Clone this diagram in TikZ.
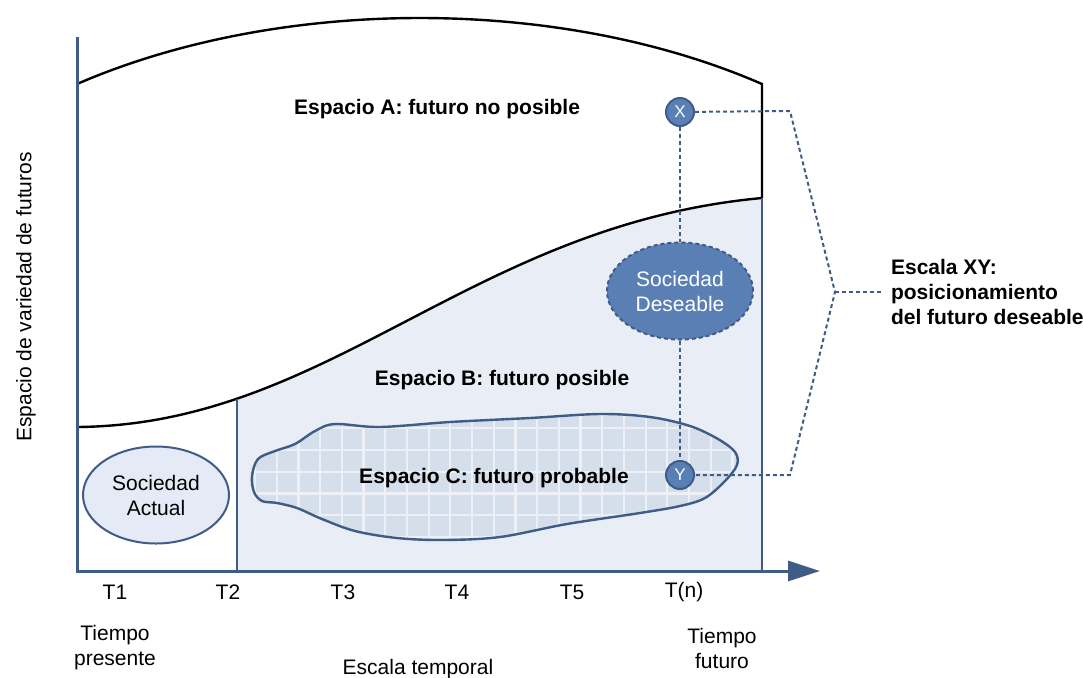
\documentclass[tikz,border=0pt]{standalone}
\usepackage{fontspec}
\setmainfont{Liberation Sans}
\usepackage{xcolor}
\usetikzlibrary{calc, arrows.meta, shapes.geometric}

\definecolor{axisblue}{RGB}{62,92,134}
\definecolor{spacebfill}{RGB}{233,237,245}
\definecolor{spacecfill}{RGB}{213,223,235}
\definecolor{gridwhite}{RGB}{237,241,247}
\definecolor{actualfill}{RGB}{229,235,246}
\definecolor{deseablefill}{RGB}{90,127,180}

\tikzset{
	txt/.style = {font = \fontsize{10.5}{12.5}\selectfont},
	boldtxt/.style = {font = \fontsize{10.5}{12.5}\selectfont\bfseries},
	society/.style = {ellipse, draw = axisblue, line width = 1pt, minimum width = 73pt, minimum height = 48.5pt, inner sep = 0pt, align = center, txt},
	marker/.style = {circle, draw = axisblue, line width = 1pt, fill = deseablefill, text = white, minimum size = 14pt, inner sep = 0pt, font = \fontsize{8.5}{9}\selectfont},
	scaleline/.style = {draw = axisblue, line width = 1pt, dash pattern = on 2pt off 1.5pt},
	gridline/.style = {draw = gridwhite, line width = 1.1pt},
}

\begin{document}
\begin{tikzpicture}[x = 0.5pt, y = -0.5pt]
		\def\upperboundary{(77,84) .. controls (280,-4) and (560,-4) .. (762,84)};
		\def\lowerboundary{(77,427) .. controls (330,425) and (470,225) .. (762,198)};
		\def\probablespace{plot [smooth cycle, tension = 0.55] coordinates {(252,476) (258,459) (275,451) (295,444) (315,431) (335,424) (380,427) (450,422) (530,418) (600,414) (650,417) (690,426) (718,439) (735,452) (737,465) (725,481) (705,498) (680,506) (640,513) (567,524) (500,537) (443,540) (397,538) (355,531) (322,519) (297,508) (277,503) (262,501) (254,492)}};
		
		\useasboundingbox (0,0) rectangle (1083,677);
		
		\begin{scope}
			\clip (237,0) rectangle (762,571);
			\fill [spacebfill] \lowerboundary -- (762,571) -- (77,571) -- cycle;
		\end{scope}
		
		\begin{scope}
			\clip \probablespace;
			\fill [spacecfill] (240,400) rectangle (750,550);
			\foreach \gx in {0,...,23} \draw [gridline] ({255+21.7*\gx},400) -- ++(0,150);
			\foreach \gy in {0,...,7} \draw [gridline] (240,{406.6+21.7*\gy}) -- ++(510,0);
		\end{scope}
		\draw [axisblue, line width = 1.2pt] \probablespace;
		
		\begin{scope}
			\draw [black, line width = 1.2pt] \upperboundary -- (762,198);
			\draw [black, line width = 1.2pt] \lowerboundary;
			\draw [axisblue, line width = 1pt] (237,399) -- (237,571);
			\draw [axisblue, line width = 1pt] (762,198) -- (762,571);
			\draw [axisblue, line width = 1.5pt, -{Triangle[length = 16pt, width = 10pt]}] (77,37) -- (77,571) -- (820,571);
		\end{scope}
		
		\begin{scope}
			\node [txt] (t1) at (115,592) {T1};
			\node [txt] (t2) at (228,592) {T2};
			\node [txt] (t3) at (343,592) {T3};
			\node [txt] (t4) at (457,592) {T4};
			\node [txt] (t5) at (572,592) {T5};
			\node [txt] (tn) at (684,592) {T(n)};
			\node [txt, align = center] (presente) at (115,648) {Tiempo\\presente};
			\node [txt, align = center] (futuro) at (722,648) {Tiempo\\futuro};
			\node [txt] (temporal) at (418,669) {Escala temporal};
			\node [txt, rotate = 90] (variedad) at (26,297) {Espacio de variedad de futuros};
		\end{scope}
		
		\begin{scope}
			\node [boldtxt] (spacea) at (437,109) {Espacio A: futuro no posible};
			\node [boldtxt] (spaceb) at (502,380) {Espacio B: futuro posible};
			\node [boldtxt] (spacec) at (494,478) {Espacio C: futuro probable};
		\end{scope}
		
		\begin{scope}
			\node [society, fill = actualfill] (actual) at (156,495) {Sociedad\\Actual};
			\node [society, fill = deseablefill, text = white, scaleline] (deseable) at (680,291) {Sociedad\\Deseable};
			\node [marker] (x) at (680,112) {X};
			\node [marker] (y) at (680,475) {Y};
		\end{scope}
		
		\begin{scope}
			\coordinate (xcorner) at (790,111);
			\coordinate (apex) at (835,292);
			\coordinate (ycorner) at (790,475);
			\coordinate (tip) at (881,292);
			\draw [scaleline] (x) -- (deseable);
			\draw [scaleline] (deseable) -- (y);
			\draw [scaleline] (x) -- (xcorner) -- (apex) -- (ycorner) -- (y);
			\draw [scaleline] (apex) -- (tip);
			\node [boldtxt, anchor = west, align = left] (escala) at (884,292) {Escala XY:\\posicionamiento\\del futuro deseable};
		\end{scope}
	\end{tikzpicture}
\end{document}
